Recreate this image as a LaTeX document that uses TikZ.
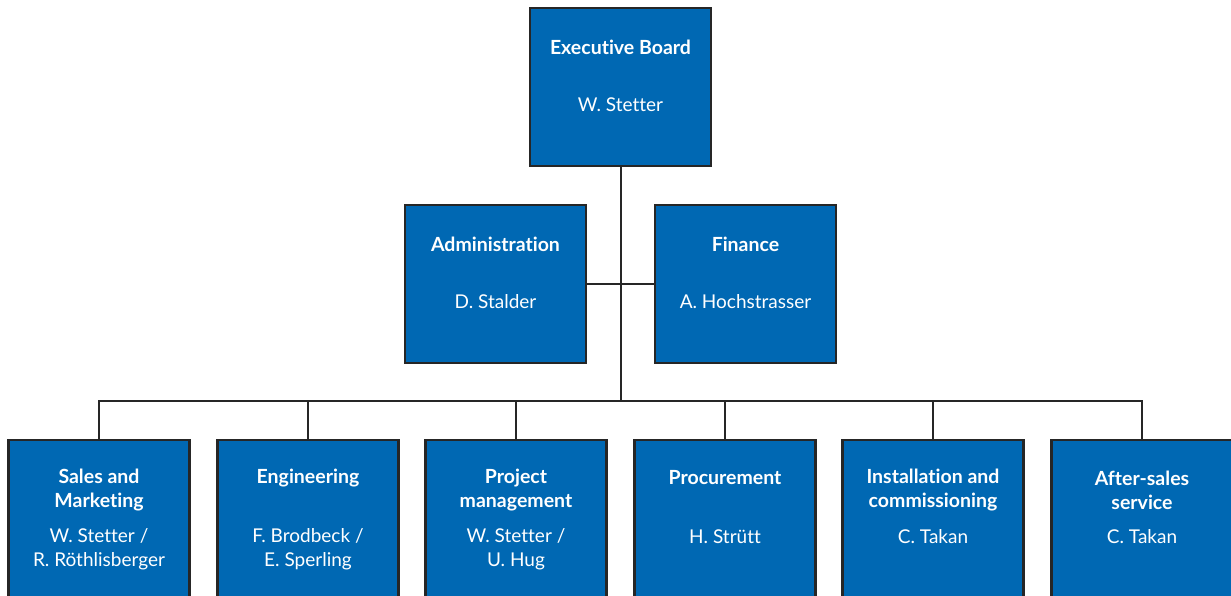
\documentclass[tikz,border=0pt]{standalone}
\usepackage{fontspec}
\setmainfont[Ligatures=NoCommon]{Lato}
\definecolor{boxblue}{HTML}{0068B3}
\definecolor{linegray}{HTML}{262626}
\tikzset{
  orgbox/.style={draw=linegray, line width=2.4pt, fill=boxblue, minimum width=181pt, inner sep=0pt},
  toprow/.style={orgbox, minimum height=158pt},
  lowrow/.style={orgbox, minimum height=175pt},
  ttl/.style={text=white, font=\fontsize{19.5}{24}\selectfont\bfseries, align=center, inner sep=0pt},
  nm/.style={text=white, font=\fontsize{19}{24}\selectfont, align=center, inner sep=0pt},
  conn/.style={draw=linegray, line width=2pt}
}
\begin{document}
\begin{tikzpicture}[x=1pt,y=-1pt]
\useasboundingbox (0,0) rectangle (1231,596);
\clip (0,0) rectangle (1231,596);
% boxes
\node[toprow] (exec) at (620.5,87) {};
\node[toprow] (admin) at (495.5,284) {};
\node[toprow] (fin) at (745.5,284) {};
\node[lowrow, anchor=north] (b1) at (99,439) {};
\node[lowrow, anchor=north] (b2) at (308,439) {};
\node[lowrow, anchor=north] (b3) at (516,439) {};
\node[lowrow, anchor=north] (b4) at (725,439) {};
\node[lowrow, anchor=north] (b5) at (933,439) {};
\node[lowrow, anchor=north] (b6) at (1142,439) {};
% connectors
\coordinate (bus) at (620.5,401);
\draw[conn] (exec.south) -- (exec.south |- bus);
\draw[conn] (admin.east) -- (fin.west);
\draw[conn] (b1.north) -- (b1.north |- bus) -- (b6.north |- bus) -- (b6.north);
\draw[conn] (b2.north) -- (b2.north |- bus);
\draw[conn] (b3.north) -- (b3.north |- bus);
\draw[conn] (b4.north) -- (b4.north |- bus);
\draw[conn] (b5.north) -- (b5.north |- bus);
% texts
\node[ttl] (t0) at (620.5,47) {Executive Board};
\node[nm] (n0) at (620.5,105) {W. Stetter};
\node[ttl] (t1) at (495.5,244) {Administration};
\node[nm] (n1) at (495.5,302) {D. Stalder};
\node[ttl] (t2) at (745.5,244) {Finance};
\node[nm] (n2) at (745.5,302) {A. Hochstrasser};
\node[ttl] (t3) at (99,490) {Sales and\\Marketing};
\node[nm] (n3) at (99,549) {W. Stetter /\\R. Röthlisberger};
\node[ttl] (t4) at (308,478) {Engineering};
\node[nm] (n4) at (308,549) {F. Brodbeck /\\E. Sperling};
\node[ttl] (t5) at (516,490) {Project\\management};
\node[nm] (n5) at (516,549) {W. Stetter /\\U. Hug};
\node[ttl] (t6) at (725,478) {Procurement};
\node[nm] (n6) at (725,537) {H. Strütt};
\node[ttl] (t7) at (933,490) {Installation and\\commissioning};
\node[nm] (n7) at (933,537) {C. Takan};
\node[ttl] (t8) at (1142,490) {After-sales\\service};
\node[nm] (n8) at (1142,537) {C. Takan};
\end{tikzpicture}
\end{document}
